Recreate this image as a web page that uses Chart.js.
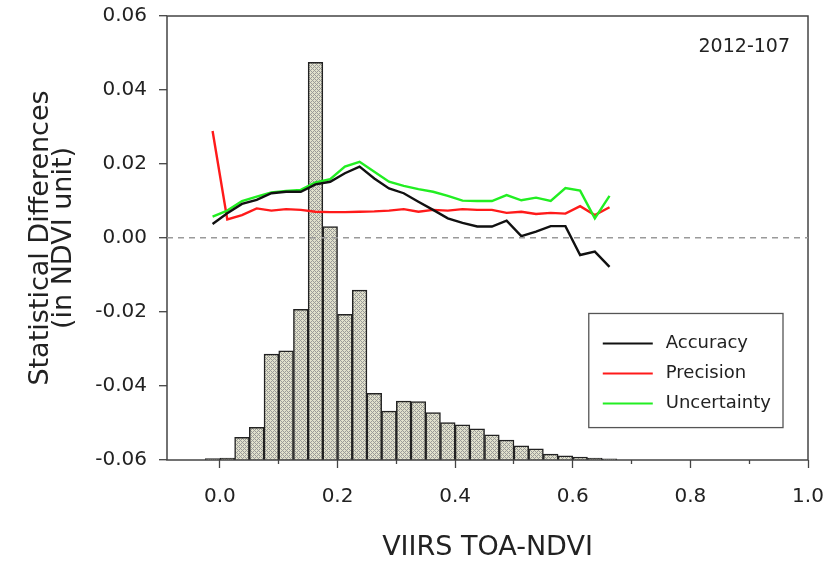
<!DOCTYPE html>
<html>
<head>
<meta charset="utf-8">
<script src="https://cdn.jsdelivr.net/npm/chart.js@4.4.1/dist/chart.umd.min.js"></script>
<style>
html,body{margin:0;padding:0;background:#ffffff;}
#wrap{width:828px;height:564px;}
</style>
</head>
<body>
<div id="wrap"><canvas id="c" width="828" height="564"></canvas></div>
<script>
// ---- data ----
const ndviBins = [-0.0125, 0.0125, 0.0375, 0.0625, 0.0875, 0.1125, 0.1375, 0.1625, 0.1875, 0.2125,
  0.2375, 0.2625, 0.2875, 0.3125, 0.3375, 0.3625, 0.3875, 0.4125, 0.4375, 0.4625,
  0.4875, 0.5125, 0.5375, 0.5625, 0.5875, 0.6125, 0.6375, 0.6625];
const accuracy = [0.0038, 0.0067, 0.0092, 0.0103, 0.0121, 0.0125, 0.0125, 0.0145, 0.0152, 0.0175,
  0.0193, 0.0161, 0.0134, 0.0121, 0.0098, 0.0076, 0.0053, 0.0041, 0.0031, 0.0031,
  0.0047, 0.0005, 0.0017, 0.0032, 0.0032, -0.0046, -0.0037, -0.0078];
const precision = [0.0289, 0.0050, 0.0062, 0.0080, 0.0074, 0.0078, 0.0076, 0.0071, 0.0070, 0.0070,
  0.0071, 0.0072, 0.0074, 0.0078, 0.0071, 0.0076, 0.0074, 0.0078, 0.0076, 0.0076,
  0.0068, 0.0071, 0.0065, 0.0068, 0.0066, 0.0086, 0.0062, 0.0083];
const uncertainty = [0.0058, 0.0074, 0.0100, 0.0112, 0.0123, 0.0127, 0.0130, 0.0150, 0.0159, 0.0193,
  0.0206, 0.0179, 0.0152, 0.0141, 0.0132, 0.0125, 0.0114, 0.0101, 0.0100, 0.0100,
  0.0116, 0.0102, 0.0109, 0.0100, 0.0135, 0.0128, 0.0053, 0.0114];
// histogram of VIIRS TOA-NDVI (relative frequency, %)
const histogram = [0.08, 0.11, 1.22, 1.76, 5.72, 5.90, 8.14, 21.5, 12.62, 7.88,
  9.18, 3.60, 2.64, 3.18, 3.16, 2.56, 2.02, 1.90, 1.68, 1.36,
  1.08, 0.76, 0.60, 0.32, 0.22, 0.16, 0.10, 0.06];
const xTicks = [0.0, 0.2, 0.4, 0.6, 0.8, 1.0];
const xMinorTicks = [0.1, 0.3, 0.5, 0.7, 0.9];
const yTicks = [-0.06, -0.04, -0.02, 0.0, 0.02, 0.04, 0.06];
const seriesLabels = ['Accuracy', 'Precision', 'Uncertainty'];
const panelLabel = '2012-107';
const xTitle = 'VIIRS TOA-NDVI';
const yTitle = ['Statistical Differences', '(in NDVI unit)'];

// ---- style ----
const FONT = "'DejaVu Sans', sans-serif";
const AXIS = '#444444';

function hatchPattern() {
  const pc = document.createElement('canvas');
  pc.width = 4; pc.height = 4;
  const g = pc.getContext('2d');
  g.fillStyle = '#e0e0cc';
  g.fillRect(0, 0, 4, 4);
  g.fillStyle = '#9a9a98';
  for (let x = 0; x < 4; x++) {
    for (let y = 0; y < 4; y++) {
      if ((x + y) % 4 === 0 || (x - y + 4) % 4 === 0) g.fillRect(x, y, 1, 1);
    }
  }
  return document.getElementById('c').getContext('2d').createPattern(pc, 'repeat');
}

const pts = arr => ndviBins.map((x, i) => ({x: x, y: arr[i]}));
const noPad = s => { s.paddingLeft = 0; s.paddingRight = 0; s.paddingTop = 0; s.paddingBottom = 0; };

const framePlugin = {
  id: 'frame',
  afterDatasetsDraw(chart) {
    const {ctx, chartArea: a} = chart;
    ctx.save();
    ctx.strokeStyle = AXIS;
    ctx.lineWidth = 1.5;
    ctx.strokeRect(a.left, a.top, a.right - a.left, a.bottom - a.top);
    ctx.restore();
  }
};

const boxLegendPlugin = {
  id: 'boxLegend',
  afterDraw(chart) {
    const {ctx, chartArea: a} = chart;
    const w = a.right - a.left, h = a.bottom - a.top;
    const bx = a.left + w * 0.658, by = a.top + h * 0.67;
    const bw = w * 0.303, bh = h * 0.257;
    ctx.save();
    ctx.fillStyle = '#ffffff';
    ctx.fillRect(bx, by, bw, bh);
    ctx.strokeStyle = '#555555';
    ctx.lineWidth = 1.3;
    ctx.strokeRect(bx, by, bw, bh);
    ctx.font = '18px ' + FONT;
    ctx.textBaseline = 'middle';
    ctx.textAlign = 'left';
    const lineDs = chart.data.datasets.filter(d => d.type === 'line');
    lineDs.forEach((d, i) => {
      const yy = by + 30 + i * 30;
      ctx.strokeStyle = d.borderColor;
      ctx.lineWidth = 2.2;
      ctx.beginPath();
      ctx.moveTo(bx + 14, yy);
      ctx.lineTo(bx + 64, yy);
      ctx.stroke();
      ctx.fillStyle = '#222222';
      ctx.fillText(d.label, bx + 77, yy);
    });
    // panel label
    ctx.font = '19px ' + FONT;
    ctx.textAlign = 'right';
    ctx.fillStyle = '#222222';
    ctx.fillText(panelLabel, a.right - 18, a.top + 31);
    ctx.restore();
  }
};

new Chart(document.getElementById('c'), {
  type: 'bar',
  data: {
    datasets: [
      {type: 'line', label: seriesLabels[0], data: pts(accuracy), borderColor: '#111111', borderWidth: 2.4,
        pointRadius: 0, tension: 0, order: 0, yAxisID: 'y', xAxisID: 'x'},
      {type: 'line', label: seriesLabels[1], data: pts(precision), borderColor: '#ff1a1a', borderWidth: 2.4,
        pointRadius: 0, tension: 0, order: 2, yAxisID: 'y', xAxisID: 'x'},
      {type: 'line', label: seriesLabels[2], data: pts(uncertainty), borderColor: '#22ee22', borderWidth: 2.4,
        pointRadius: 0, tension: 0, order: 1, yAxisID: 'y', xAxisID: 'x'},
      {type: 'bar', label: 'Histogram', data: pts(histogram), backgroundColor: hatchPattern(),
        borderColor: '#222222', borderWidth: 1.5, barPercentage: 1, categoryPercentage: 1,
        order: 10, yAxisID: 'y2', xAxisID: 'x'}
    ]
  },
  options: {
    responsive: false,
    animation: false,
    devicePixelRatio: 1,
    layout: {padding: {left: 0, right: 20, top: 16, bottom: 0}},
    plugins: {legend: {display: false}, tooltip: {enabled: false}},
    scales: {
      x: {
        type: 'linear', min: -0.09, max: 1.0, position: 'bottom', weight: 1, offset: false,
        afterBuildTicks: s => { s.ticks = xTicks.map(v => ({value: v})); },
        afterFit: s => { s.height = 104; noPad(s); },
        ticks: {callback: v => Number(v).toFixed(1), font: {family: FONT, size: 20}, color: '#222222',
          padding: 17, maxRotation: 0, autoSkip: false},
        grid: {drawOnChartArea: false, offset: false, tickLength: 8, tickColor: AXIS, tickWidth: 1.3},
        border: {display: false},
        title: {display: true, text: xTitle, font: {family: FONT, size: 27}, color: '#222222',
          padding: {top: 0, bottom: 0}}
      },
      xm: {
        type: 'linear', min: -0.09, max: 1.0, position: 'bottom', weight: 0, offset: false,
        afterBuildTicks: s => { s.ticks = xMinorTicks.map(v => ({value: v})); },
        afterFit: s => { s.height = 0; noPad(s); },
        ticks: {display: false},
        grid: {drawOnChartArea: false, offset: false, tickLength: 4, tickColor: AXIS, tickWidth: 1.3},
        border: {display: false}
      },
      y: {
        type: 'linear', min: -0.06, max: 0.06, position: 'left',
        afterBuildTicks: s => { s.ticks = yTicks.map(v => ({value: v})); },
        afterFit: s => { s.width = 167; noPad(s); },
        ticks: {callback: v => Number(v).toFixed(2), font: {family: FONT, size: 20}, color: '#222222', padding: 12},
        grid: {
          color: c => (c.tick && c.tick.value === 0) ? '#9a9a9a' : 'rgba(0,0,0,0)',
          lineWidth: 1.4, tickColor: AXIS, tickLength: 8, tickWidth: 1.3, tickBorderDash: [], z: 1
        },
        border: {display: false, dash: [6, 5]},
        title: {display: true, text: yTitle, font: {family: FONT, size: 27, lineHeight: 0.87}, color: '#222222',
          padding: {top: 29, bottom: 0}}
      },
      y2: {type: 'linear', display: false, min: 0, max: 24, position: 'right'}
    }
  },
  plugins: [framePlugin, boxLegendPlugin]
});
</script>
</body>
</html>
